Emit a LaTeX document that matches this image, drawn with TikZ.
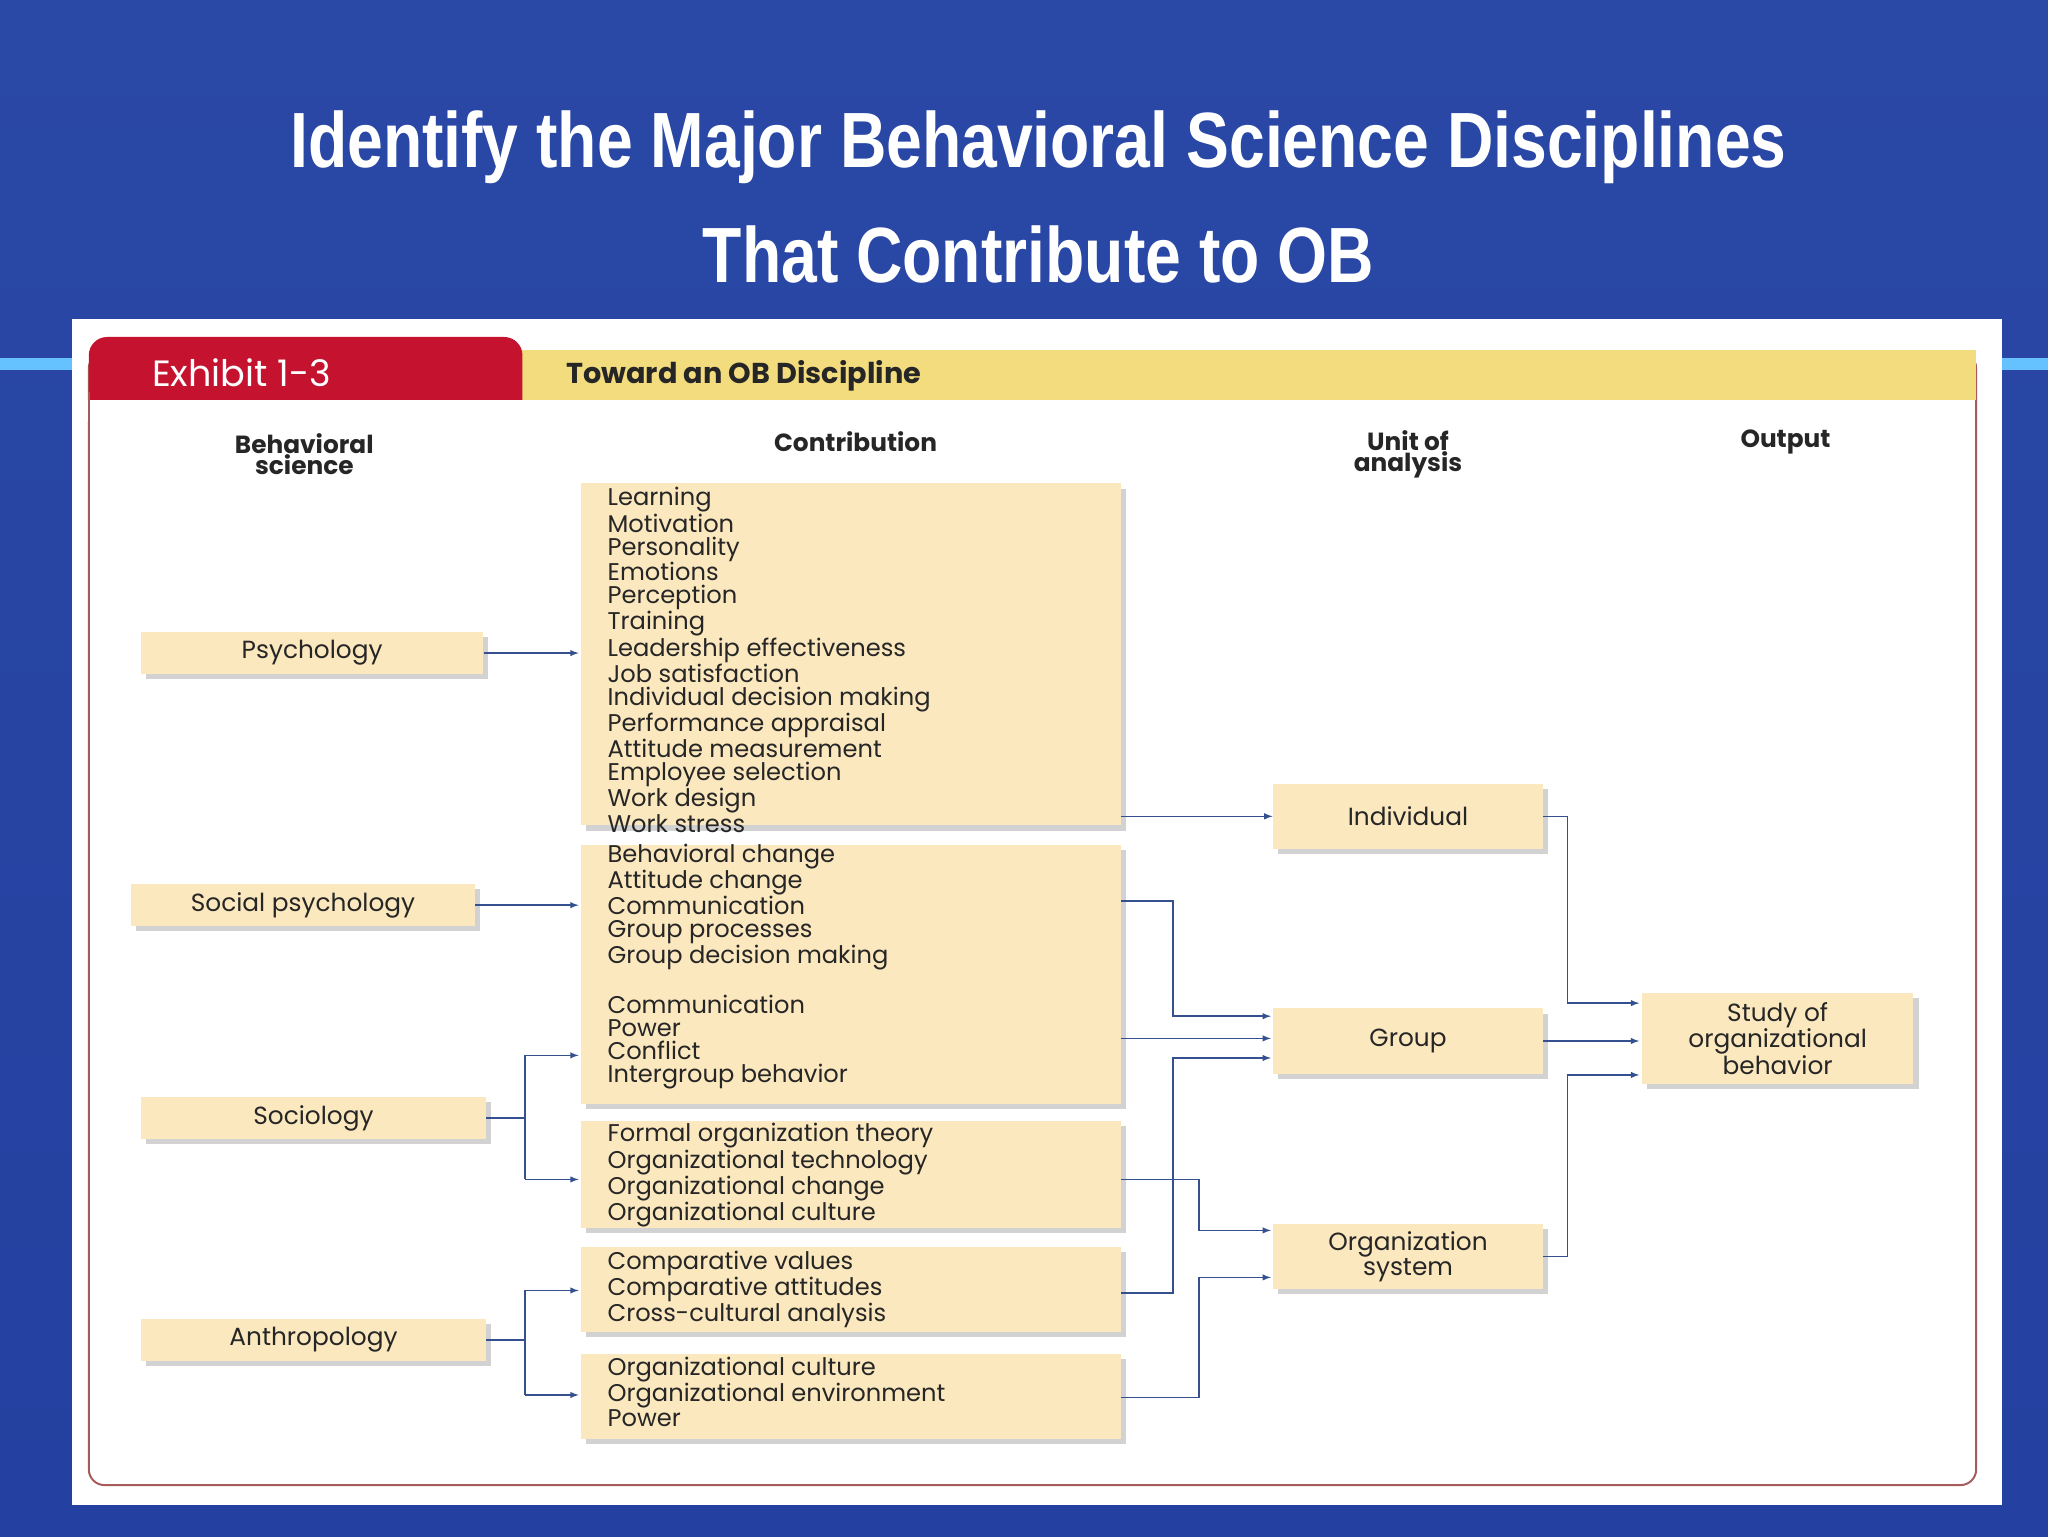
\documentclass[tikz,border=0pt]{standalone}
\usepackage{fontspec}
\setmainfont{Liberation Sans}
\newfontfamily\boxfont{Poppins}
\usetikzlibrary{shadows}
\definecolor{bgtop}{HTML}{2A48A6}
\definecolor{bgbot}{HTML}{2440A0}
\definecolor{boxfill}{HTML}{FBE8BE}
\definecolor{conn}{HTML}{34508F}
\definecolor{tabred}{HTML}{C4122F}
\definecolor{band}{HTML}{F3DC7E}
\definecolor{frame}{HTML}{A65A5A}
\begin{document}
\begin{tikzpicture}[x=1pt,y=-1pt,
  bx/.style={fill=boxfill,draw=none,drop shadow={shadow xshift=4pt,shadow yshift=-4pt,opacity=0.35}},
  lst/.style={anchor=north west,inner sep=0pt,align=left,font=\boxfont\fontsize{18.5}{17.6}\selectfont,text=black!85},
  lbl/.style={inner sep=0pt,font=\boxfont\fontsize{19}{19}\selectfont,text=black!85},
  hd/.style={inner sep=0pt,align=center,font=\boxfont\bfseries\fontsize{19}{19}\selectfont,text=black!85},
  ar/.style={draw=conn,line width=1.2pt,-latex},
  ln/.style={draw=conn,line width=1.2pt}]
\useasboundingbox (0,0) rectangle (1568,1176);
\shade[top color=bgtop,bottom color=bgbot] (0,0) rectangle (1568,1176);
\fill[blue!40!cyan!60!white] (0,274) rectangle (1568,283);
\node[text=white,font=\bfseries\fontsize{60}{60}\selectfont,xscale=0.82] (t1) at (795,113) {Identify the Major Behavioral Science Disciplines};
\node[text=white,font=\bfseries\fontsize{60}{60}\selectfont,xscale=0.82] (t2) at (795,195) {That Contribute to OB};
\fill[white] (55,244) rectangle (1533,1152);
\draw[frame,line width=1.5pt,rounded corners=12pt] (68,270) rectangle (1513,1137);
\fill[band] (390,268) rectangle (1513,306);
\fill[tabred,rounded corners=14pt] (68,258) rectangle (400,320);
\fill[white] (66,306) rectangle (402,322);
\draw[frame,line width=1.5pt] (68,300) -- (68,322);
\node[text=white,font=\boxfont\fontsize{28}{28}\selectfont,anchor=west] (ex) at (113,285) {Exhibit 1-3};
\node[font=\boxfont\bfseries\fontsize{22}{22}\selectfont,anchor=west,text=black!85] (tw) at (430,288) {Toward an OB Discipline};
\node[hd] (h1) at (233,348) {Behavioral\\[-3pt]science};
\node[hd] (h2) at (655,338) {Contribution};
\node[hd] (h3) at (1078,348) {Unit of\\[-3pt]analysis};
\node[hd] (h4) at (1367,338) {Output};
% left boxes
\node[bx,minimum width=262,minimum height=32] (psy) at (239,500) {};
\node[lbl] at (psy) {Psychology};
\node[bx,minimum width=263,minimum height=32] (soc) at (232,693) {};
\node[lbl] at (soc) {Social psychology};
\node[bx,minimum width=264,minimum height=32] (sog) at (240,856) {};
\node[lbl] at (sog) {Sociology};
\node[bx,minimum width=264,minimum height=32] (ant) at (240,1026) {};
\node[lbl] at (ant) {Anthropology};
% contribution boxes
\node[bx,minimum width=413,minimum height=262] (c1) at (651.5,501) {};
\node[lst] at (465,373) {Learning\\Motivation\\Personality\\Emotions\\Perception\\Training\\Leadership effectiveness\\Job satisfaction\\Individual decision making\\Performance appraisal\\Attitude measurement\\Employee selection\\Work design\\Work stress};
\node[bx,minimum width=413,minimum height=198] (c2) at (651.5,746) {};
\node[lst] at (465,646) {Behavioral change\\Attitude change\\Communication\\Group processes\\Group decision making};
\node[lst] at (465,762) {Communication\\Power\\Conflict\\Intergroup behavior};
\node[bx,minimum width=413,minimum height=82] (c3) at (651.5,899) {};
\node[lst] at (465,860) {Formal organization theory\\Organizational technology\\Organizational change\\Organizational culture};
\node[bx,minimum width=413,minimum height=65] (c4) at (651.5,987) {};
\node[lst] at (465,958) {Comparative values\\Comparative attitudes\\Cross-cultural analysis};
\node[bx,minimum width=413,minimum height=65] (c5) at (651.5,1069) {};
\node[lst] at (465,1039) {Organizational culture\\Organizational environment\\Power};
% units
\node[bx,minimum width=207,minimum height=50] (ind) at (1078,625) {};
\node[lbl] at (ind) {Individual};
\node[bx,minimum width=207,minimum height=50] (grp) at (1078,797) {};
\node[lbl] at (grp) {Group};
\node[bx,minimum width=207,minimum height=50] (org) at (1078,962) {};
\node[lbl,align=center,font=\boxfont\fontsize{19}{19}\selectfont] at (org) {Organization\\system};
\node[bx,minimum width=208,minimum height=70] (out) at (1361,795) {};
\node[lbl,align=center,font=\boxfont\fontsize{19}{19}\selectfont] at (out) {Study of\\organizational\\behavior};
% connectors
\draw[ar] (psy.east) -- (443,500);
\draw[ar] (soc.east) -- (443,693);
\draw[ln] (sog.east) -- (402,856);
\draw[ar] (402,808) -- (443,808);
\draw[ar] (402,903) -- (443,903);
\draw[ln] (402,808) -- (402,903);
\draw[ln] (ant.east) -- (402,1026);
\draw[ln] (402,988) -- (402,1068);
\draw[ar] (402,988) -- (443,988);
\draw[ar] (402,1068) -- (443,1068);
\draw[ar] (858,625) -- (ind.west);
\draw[ar] (858,690) -- (898,690) -- (898,778) -- (973,778);
\draw[ar] (858,795) -- (973,795);
\draw[ar] (858,990) -- (898,990) -- (898,810) -- (973,810);
\draw[ar] (858,903) -- (918,903) -- (918,942) -- (973,942);
\draw[ar] (858,1070) -- (918,1070) -- (918,978) -- (973,978);
\draw[ar] (ind.east) -- (1200,625) -- (1200,768) -- (1255,768);
\draw[ar] (grp.east) -- (1255,797);
\draw[ar] (org.east) -- (1200,962) -- (1200,823) -- (1255,823);
\end{tikzpicture}
\end{document}
